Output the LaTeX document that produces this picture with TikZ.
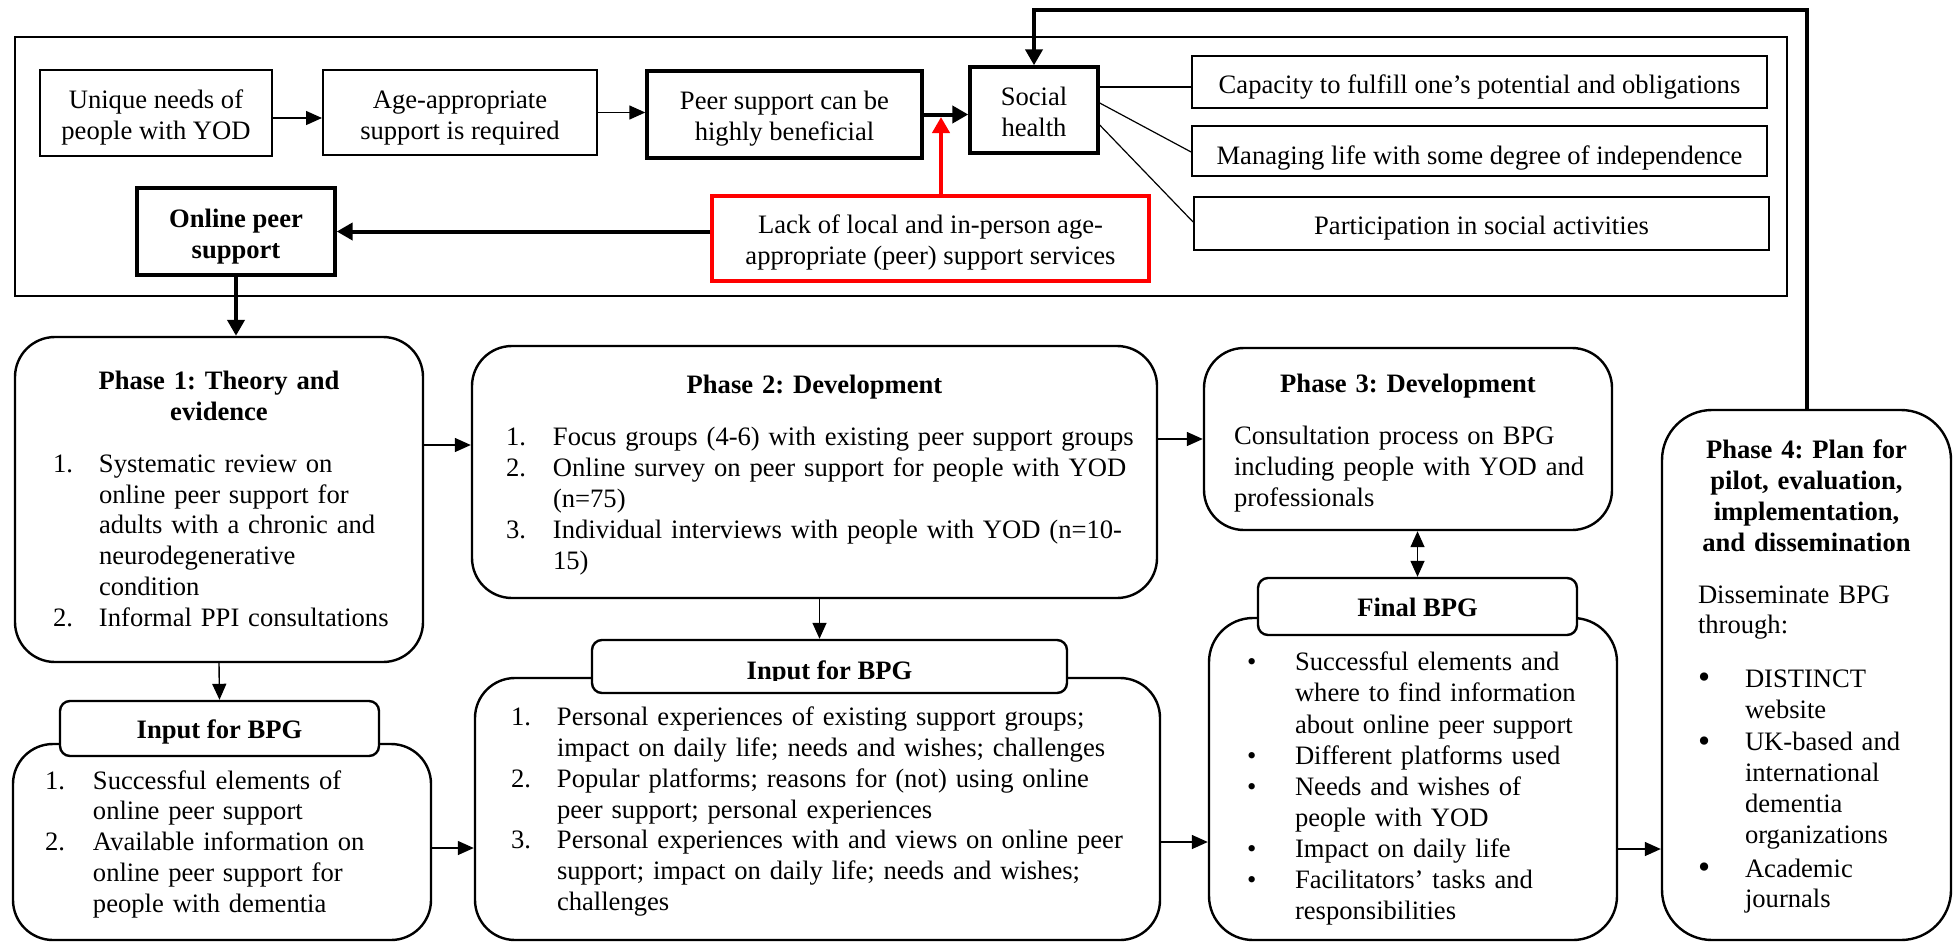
\documentclass[tikz,border=0pt]{standalone}
\usepackage{fontspec}
\setmainfont{Liberation Serif}
\usetikzlibrary{arrows.meta}
\setlength\parindent{0pt}
\frenchspacing
\newcommand\bodyfont{\fontsize{13.3}{15.4}\selectfont}
\newcommand\smallbul{\textbullet}
\newcommand\bigbul{\raisebox{-0.1ex}{\scalebox{1.3}{\textbullet}}}
% invisible strut that raises the top of the first line, moving the text block down
\newcommand\dn[1]{\rule{0pt}{#1}}

\begin{document}
\begin{tikzpicture}[x=0.5pt,y=-0.5pt,
  every node/.style={font=\bodyfont, inner sep=0pt},
  sqbox/.style={draw, line width=1pt, align=center},
  sqbold/.style={draw, line width=1.7pt, align=center},
  facet/.style={draw, line width=0.9pt, align=center},
  roundbox/.style={draw, line width=1.2pt, rounded corners=20pt},
  tabbox/.style={draw, fill=white, line width=1.2pt, rounded corners=5pt, align=center, font=\bodyfont\bfseries},
  arrthin/.style={line width=0.7pt, -{Triangle[length=8pt,width=7pt]}},
  arrboth/.style={line width=0.7pt, {Triangle[length=8pt,width=7pt]}-{Triangle[length=8pt,width=7pt]}},
  arrbold/.style={line width=2pt, -{Triangle[length=8pt,width=8.5pt]}},
  link/.style={line width=0.6pt},
]
\useasboundingbox (0,0) rectangle (1953,942);

% ---------- upper band: why online peer support ----------
\node[draw, line width=1.2pt, minimum width=886pt, minimum height=129.5pt] (frame) at (901,166.5) {};
\node[sqbox, minimum width=116pt, minimum height=43pt] (u) at (156,113) {\dn{14.1pt}Unique needs of\\people with YOD};
\node[sqbox, minimum width=137pt, minimum height=42.5pt] (a) at (460,112.5) {\dn{14.1pt}Age-appropriate\\support is required};
\node[sqbold, minimum width=137.5pt, minimum height=43.5pt] (p) at (784.5,114.5) {\dn{13.1pt}Peer support can be\\highly beneficial};
\node[sqbold, minimum width=64pt, minimum height=43pt] (s) at (1034,110) {\dn{11.1pt}Social\\health};
\node[facet, minimum width=287.5pt, minimum height=26pt] (c1) at (1479.5,82) {\dn{14.1pt}Capacity to fulfill one’s potential and obligations};
\node[facet, minimum width=287.5pt, minimum height=25pt] (c2) at (1479.5,151) {\dn{16.1pt}Managing life with some degree of independence};
\node[facet, minimum width=287.5pt, minimum height=26.5pt] (c3) at (1481.5,223.5) {\dn{14.1pt}Participation in social activities};
\node[sqbold, font=\bodyfont\bfseries, minimum width=99pt, minimum height=43.5pt] (o) at (236,231.5) {\dn{14.1pt}Online peer\\support};
\node[sqbold, draw=red, minimum width=218.5pt, minimum height=42.5pt] (r) at (930.5,238.5) {\dn{13.1pt}Lack of local and in-person age-\\appropriate (peer) support services};

% ---------- phases ----------
\node[roundbox, minimum width=204pt, minimum height=162.5pt, text width=166pt] (p1) at (219,499.5) {%
  {\centering\bfseries\dn{13.1pt}Phase 1: Theory and\\evidence\par}\vspace{10.6pt}%
  \begin{tabular}[t]{@{}p{23pt}@{}l@{}}
  1. & Systematic review on\\
     & online peer support for\\
     & adults with a chronic and\\
     & neurodegenerative\\
     & condition\\
  2. & Informal PPI consultations
  \end{tabular}};

\node[roundbox, minimum width=342.5pt, minimum height=126pt, text width=308.5pt] (p2) at (814.5,472) {%
  {\centering\bfseries\dn{14.1pt}Phase 2: Development\par}\vspace{10.6pt}%
  \begin{tabular}[t]{@{}p{23.5pt}@{}l@{}}
  1. & Focus groups (4-6) with existing peer support groups\\
  2. & Online survey on peer support for people with YOD\\
     & (n=75)\\
  3. & Individual interviews with people with YOD (n=10-\\
     & 15)
  \end{tabular}};

\node[roundbox, minimum width=204pt, minimum height=91pt, text width=174pt] (p3) at (1408,439) {%
  {\centering\bfseries\dn{15.1pt}Phase 3: Development\par}\vspace{10.6pt}%
  \begin{tabular}[t]{@{}l@{}}
  Consultation process on BPG\\
  including people with YOD and\\
  professionals
  \end{tabular}};

\node[roundbox, rounded corners=25pt, minimum width=144.5pt, minimum height=265pt, text width=108.5pt] (p4) at (1806.5,675) {%
  {\centering\bfseries\dn{13.1pt}Phase 4: Plan for\\pilot, evaluation,\\implementation,\\and dissemination\par}\vspace{10.5pt}%
  \begin{tabular}[t]{@{}p{23.5pt}@{}l@{}}
  \multicolumn{2}{@{}l@{}}{Disseminate BPG}\\
  \multicolumn{2}{@{}l@{}}{through:}\\[11.3pt]
  \bigbul & DISTINCT\\
          & website\\[1pt]
  \bigbul & UK-based and\\
          & international\\
          & dementia\\
          & organizations\\[1.5pt]
  \bigbul & Academic\\
          & journals
  \end{tabular}};

% ---------- inputs for the best practice guidance ----------
\node[roundbox, minimum width=209pt, minimum height=98pt, text width=177pt] (in1) at (222,842) {%
  \dn{13.3pt}\begin{tabular}[t]{@{}p{24pt}@{}l@{}}
  1. & Successful elements of\\
     & online peer support\\
  2. & Available information on\\
     & online peer support for\\
     & people with dementia
  \end{tabular}};
\node[tabbox, minimum width=159.5pt, minimum height=27.5pt] (in1tab) at (219.5,728.5) {\dn{13.1pt}Input for BPG};

\node[roundbox, minimum width=342.5pt, minimum height=131pt, text width=306.5pt] (in2) at (817.5,809) {%
  \dn{13.8pt}\begin{tabular}[t]{@{}p{23pt}@{}l@{}}
  1. & Personal experiences of existing support groups;\\
     & impact on daily life; needs and wishes; challenges\\
  2. & Popular platforms; reasons for (not) using online\\
     & peer support; personal experiences\\
  3. & Personal experiences with and views on online peer\\
     & support; impact on daily life; needs and wishes;\\
     & challenges
  \end{tabular}};
\node[tabbox, minimum width=237.5pt, minimum height=26.5pt] (in2tab) at (829.5,666.5) {};
\begin{scope}
  % the label of this tab is cut off along the top of the box below it
  \clip (in2tab.north west) rectangle (in2tab.east |- 0,680);
  \node[font=\bodyfont\bfseries, anchor=base] (in2tabtxt) at (829.5,679) {Input for BPG};
\end{scope}

\node[roundbox, rounded corners=22pt, minimum width=204pt, minimum height=161pt, text width=166pt] (fin) at (1413,779) {%
  \fontsize{13.3}{15.55}\selectfont
  \dn{20.9pt}\begin{tabular}[t]{@{}p{24pt}@{}l@{}}
  \smallbul & Successful elements and\\
            & where to find information\\
            & about online peer support\\
  \smallbul & Different platforms used\\
  \smallbul & Needs and wishes of\\
            & people with YOD\\
  \smallbul & Impact on daily life\\
  \smallbul & Facilitators’ tasks and\\
            & responsibilities
  \end{tabular}};
\node[tabbox, minimum width=159.5pt, minimum height=28.5pt] (fintab) at (1417.5,606.5) {\dn{10.1pt}Final BPG};

% ---------- connectors, upper band ----------
\draw[arrthin] ([yshift=-2.5pt]u.east) -- ([yshift=-2.5pt]u.east -| a.west);
\draw[arrthin] (a.east) -- (a.east -| p.west);
\draw[arrbold] (p.east) -- (p.east -| s.west);
\draw[link] (s.east |- 0,87) -- (c1.west |- 0,87);
\draw[link] (s.east |- 0,103) -- (c2.west |- 0,152);
\draw[link] (s.east |- 0,125) -- (c3.west |- 0,222);
\coordinate (redtip) at (941,117);
\draw[arrbold, red] (r.north -| redtip) -- (redtip);
\draw[arrbold] (r.west |- o.east) -- (o.east);
\draw[arrbold] (o.south) -- (o.south |- p1.north);
\draw[arrbold] (p4.north) -- (p4.north |- 0,10) -- (s.north |- 0,10) -- (s.north);

% ---------- connectors, phases ----------
\draw[arrthin] (p1.east |- 0,445) -- (p2.west |- 0,445);
\draw[arrthin] (p2.east |- p3.west) -- (p3.west);
\draw[arrthin] (p1.south) -- (in1tab.north);
\draw[arrthin] ([xshift=2.5pt]p2.south) -- ([xshift=2.5pt]p2.south |- in2tab.north);
\draw[arrboth] (fintab.north |- p3.south) -- (fintab.north);
\draw[arrthin] (in1.east |- 0,848) -- (in2.west |- 0,848);
\draw[arrthin] (in2.east |- 0,842) -- (fin.west |- 0,842);
\draw[arrthin] (fin.east |- 0,849) -- (p4.west |- 0,849);
\end{tikzpicture}
\end{document}
